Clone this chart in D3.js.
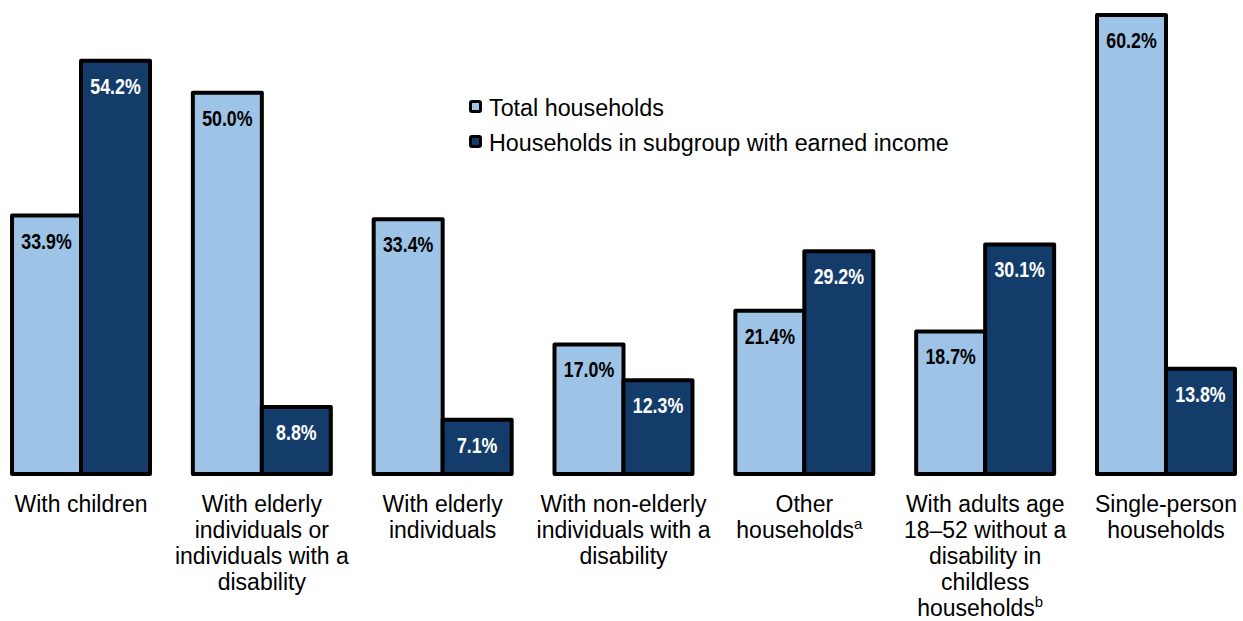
<!DOCTYPE html>
<html>
  <head>
    <script src="https://d3js.org/d3.v7.min.js"></script>
    <style>
      body { margin: 0; background: #fff; }
      svg { display: block; }
    </style>
  </head>
  <body>
    <svg></svg>
<script>
// Data
const categories = [
    ['With children'],
    ['With elderly', 'individuals or', 'individuals with a', 'disability'],
    ['With elderly', 'individuals'],
    ['With non-elderly', 'individuals with a', 'disability'],
    ['Other', 'households^a'],
    ['With adults age', '18\u201352 without a', 'disability in', 'childless', 'households^b'],
    ['Single-person', 'households']
];
const seriesNames = ['Total households', 'Households in subgroup with earned income'];
const totalValues  = [33.9, 50.0, 33.4, 17.0, 21.4, 18.7, 60.2];
const earnedValues = [54.2, 8.8, 7.1, 12.3, 29.2, 30.1, 13.8];
const colors = ['#9DC3E6', '#133C6B'];

const width = 1243, height = 621;
const svg = d3.select('svg').attr('width', width).attr('height', height);

// Outer band for groups, inner band for the two series
const x0 = d3.scaleBand()
    .domain(d3.range(categories.length))
    .range([-9.4, 1256.4])
    .paddingInner(0.237)
    .paddingOuter(0.1185);
const x1 = d3.scaleBand()
    .domain([0, 1])
    .range([0, x0.bandwidth()]);
const y = d3.scaleLinear().domain([0, 65]).range([474, 474 - 65 * 7.625]);

const rows = categories.map((c, i) => ({ i, vals: [totalValues[i], earnedValues[i]] }));

const groups = svg.append('g').selectAll('g.group')
    .data(rows)
    .join('g')
    .attr('class', 'group')
    .attr('transform', d => 'translate(' + x0(d.i) + ',0)');

groups.selectAll('rect')
    .data(d => d.vals.map((v, s) => ({ v, s })))
    .join('rect')
    .attr('x', d => x1(d.s))
    .attr('y', d => y(d.v))
    .attr('width', x1.bandwidth())
    .attr('height', d => y(0) - y(d.v))
    .attr('fill', d => colors[d.s])
    .attr('stroke', '#000')
    .attr('stroke-width', 4)
    .attr('stroke-linejoin', 'round');

// Value labels inside the bars (condensed bold, squeezed horizontally)
groups.selectAll('text.val')
    .data(d => d.vals.map((v, s) => ({ v, s })))
    .join('text')
    .attr('class', 'val')
    .attr('transform', d => 'translate(' + (x1(d.s) + x1.bandwidth() / 2) + ',' + (y(d.v) + 33) + ') scale(0.79,1)')
    .attr('text-anchor', 'middle')
    .attr('font-family', '"Liberation Sans", Arial, sans-serif')
    .attr('font-weight', 'bold')
    .attr('font-size', '22.5px')
    .attr('fill', d => d.s === 0 ? '#000' : '#fff')
    .text(d => d.v.toFixed(1) + '%');

// Category labels under the bars
const catText = svg.append('g').selectAll('text.cat')
    .data(categories)
    .join('text')
    .attr('class', 'cat')
    .attr('text-anchor', 'middle')
    .attr('font-family', '"Liberation Sans", Arial, sans-serif')
    .attr('font-size', '23px')
    .attr('fill', '#000');

catText.each(function(lines, i) {
    const t = d3.select(this);
    lines.forEach((line, k) => {
        const parts = line.split('^');
        t.append('tspan')
            .attr('x', x0(i) + x0.bandwidth() / 2 + (parts[1] ? -5 : 0))
            .attr('y', 512 + k * 26)
            .text(parts[0]);
        if (parts[1]) {
            t.append('tspan')
                .attr('dy', -9)
                .attr('font-size', '15px')
                .text(parts[1]);
        }
    });
});

// Legend
const legend = svg.append('g').attr('transform', 'translate(469,99)');
const item = legend.selectAll('g')
    .data(seriesNames)
    .join('g')
    .attr('transform', (d, i) => 'translate(0,' + i * 35 + ')');
item.append('rect')
    .attr('x', 1.5).attr('y', 2.5)
    .attr('width', 10).attr('height', 10)
    .attr('rx', 1.5)
    .attr('fill', (d, i) => colors[i])
    .attr('stroke', '#000')
    .attr('stroke-width', 3);
item.append('text')
    .attr('x', 20)
    .attr('y', 17)
    .attr('font-family', '"Liberation Sans", Arial, sans-serif')
    .attr('font-size', '23.3px')
    .attr('fill', '#000')
    .text(d => d);
</script>
  </body>
</html>
